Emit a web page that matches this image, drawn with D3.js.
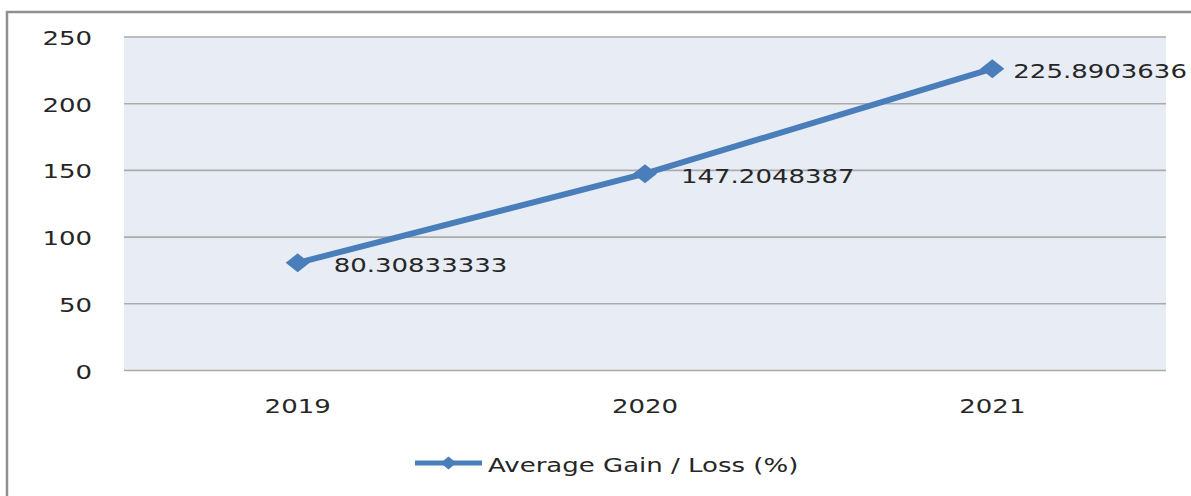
<!DOCTYPE html>
<html>
<head>
<meta charset="utf-8">
<script src="https://cdn.jsdelivr.net/npm/d3@7"></script>
<style>
  body { margin: 0; background: #fff; overflow: hidden; }
  text { font-family: "DejaVu Sans", Verdana, sans-serif; font-size: 20px; fill: #262626; }
</style>
</head>
<body>
<div id="chart"></div>
<script>
// chart data
var years = ["2019", "2020", "2021"];
var gains = [80.30833333, 147.2048387, 225.8903636];
var gainLabels = ["80.30833333", "147.2048387", "225.8903636"];
var yTicks = [0, 50, 100, 150, 200, 250];
var seriesName = "Average Gain / Loss (%)";

var svgWidth = 1191;
var svgHeight = 496;

var margin = { top: 36.5, right: 25, bottom: 126, left: 124 };
var width = svgWidth - margin.left - margin.right;
var height = svgHeight - margin.top - margin.bottom;

// the source picture is stretched sideways, so text gets stretched too
var stretch = 1.3;
var lineColor = "#4a7ebb";

function stretchText(sel) {
  sel.each(function() {
    var t = d3.select(this);
    var x = +t.attr("x") || 0;
    var y = +t.attr("y") || 0;
    t.attr("x", 0).attr("y", 0)
      .attr("transform", `translate(${x},${y}) scale(${stretch},1)`);
  });
}

var svg = d3.select("#chart").append("svg")
  .attr("width", svgWidth)
  .attr("height", svgHeight);

// outer frame (runs off the right and bottom of the picture)
svg.append("rect")
  .attr("x", 7).attr("y", 12)
  .attr("width", 1400).attr("height", 700)
  .attr("fill", "none")
  .attr("stroke", "#8f8f8f")
  .attr("stroke-width", 2.5);

var chartGroup = svg.append("g")
  .attr("transform", `translate(${margin.left}, ${margin.top})`);

var xScale = d3.scaleBand()
  .domain(years)
  .range([0, width]);

var yScale = d3.scaleLinear()
  .domain([0, 250])
  .range([height, 0]);

// plot area background
chartGroup.append("rect")
  .attr("width", width)
  .attr("height", height)
  .attr("fill", "#e8edf5");

// y gridlines + labels
var yAxis = chartGroup.append("g")
  .call(d3.axisLeft(yScale).tickValues(yTicks).tickSize(-width).tickPadding(32));
yAxis.select(".domain").remove();
yAxis.selectAll("line")
  .attr("stroke", "#ababab")
  .attr("stroke-width", 1.6);
yAxis.selectAll("text")
  .attr("font-size", null)
  .attr("font-family", null)
  .attr("fill", null)
  .attr("dy", "0.4em")
  .call(stretchText);

// x labels
var xAxis = chartGroup.append("g")
  .attr("transform", `translate(0, ${height})`)
  .call(d3.axisBottom(xScale).tickSize(0).tickPadding(29));
xAxis.select(".domain").remove();
xAxis.selectAll("text")
  .attr("font-size", null)
  .attr("font-family", null)
  .attr("fill", null)
  .call(stretchText);

var points = years.map(function(yr, i) {
  return { year: yr, value: gains[i], label: gainLabels[i] };
});

var cx = d => xScale(d.year) + xScale.bandwidth() / 2;
var cy = d => yScale(d.value);

var line = d3.line().x(cx).y(cy);

chartGroup.append("path")
  .datum(points)
  .attr("d", line)
  .attr("fill", "none")
  .attr("stroke", lineColor)
  .attr("stroke-width", 6)
  .attr("stroke-linejoin", "round");

chartGroup.selectAll(".marker")
  .data(points)
  .enter()
  .append("path")
  .attr("class", "marker")
  .attr("d", "M-12,0L0,-9.5L12,0L0,9.5Z")
  .attr("transform", d => `translate(${cx(d)},${cy(d)})`)
  .attr("fill", lineColor);

// data labels, to the right of each point, pushed left if they run off
var labels = chartGroup.selectAll(".dlabel")
  .data(points)
  .enter()
  .append("text")
  .attr("class", "dlabel")
  .attr("y", d => cy(d) + 9)
  .text(d => d.label);

labels.attr("x", function(d) {
  var w = this.getComputedTextLength() * stretch;
  var maxX = svgWidth - margin.left - w - 4;
  return Math.min(cx(d) + 36, maxX);
}).call(stretchText);

// legend
var legend = svg.append("g")
  .attr("transform", "translate(415, 463)");

legend.append("line")
  .attr("x1", 0).attr("x2", 67)
  .attr("y1", 0).attr("y2", 0)
  .attr("stroke", lineColor)
  .attr("stroke-width", 5);

legend.append("path")
  .attr("d", "M-8,0L0,-6.5L8,0L0,6.5Z")
  .attr("transform", "translate(33.5,0)")
  .attr("fill", lineColor);

legend.append("text")
  .attr("x", 73)
  .attr("y", 9)
  .text(seriesName)
  .call(stretchText);
</script>
</body>
</html>
